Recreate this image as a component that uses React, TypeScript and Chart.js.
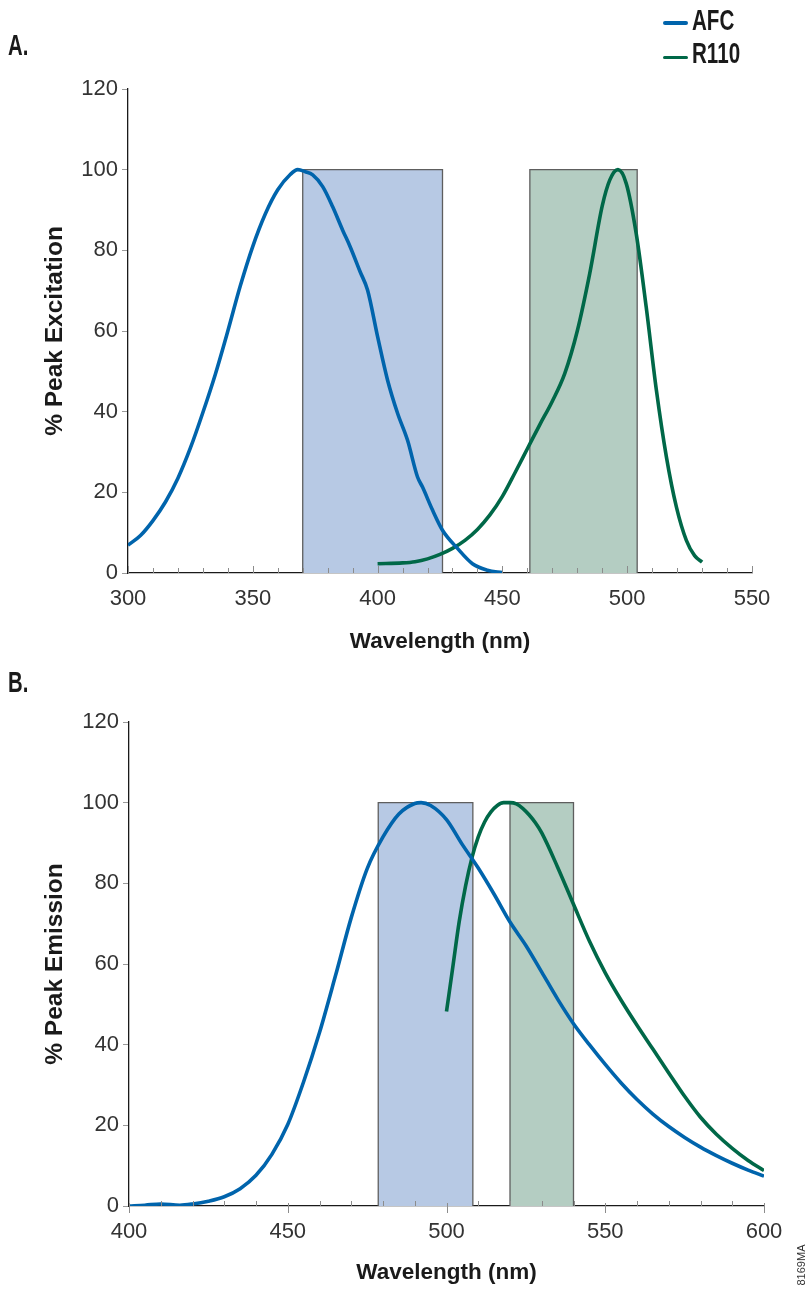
import React, { useEffect, useRef } from "react";
import { Chart, registerables } from "chart.js";

Chart.register(...registerables);

// ---------- data ----------
const seriesNames = ["AFC", "R110"];
const seriesColors = ["#0064ac", "#006848"];
const bandColors = ["#b7c9e4", "#b4cdc2"];

const exRange = [300, 550];
const emRange = [400, 600];
const yMax = 120;
const bandTop = 100;

// A. excitation
const afcExWl = [300, 305, 310, 315, 320, 325, 330, 335, 340, 345, 350, 355, 360, 365, 368, 371, 374, 378, 382, 386, 389, 393, 396, 400, 404, 408, 412, 416, 418, 422, 426, 432, 438, 444, 450];
const afcExVal = [6.9, 9.3, 13.0, 17.6, 23.5, 31.0, 39.8, 49.3, 60.0, 71.2, 81.0, 89.0, 95.0, 98.8, 100, 99.5, 98.7, 95.8, 90.8, 85, 80.9, 74.7, 70.1, 58.6, 47.8, 39.6, 32.9, 23.8, 21.3, 15.6, 10.6, 6.1, 2.3, 0.7, 0.1];
const r110ExWl = [400, 410, 415, 420, 425, 430, 435, 440, 445, 450, 455, 460, 465, 470, 475, 480, 485, 490, 493, 496.3, 499.6, 503.6, 507.6, 511.7, 515.7, 519.7, 523.7, 527, 530];
const r110ExVal = [2.3, 2.5, 2.8, 3.5, 4.6, 6.1, 8.1, 10.8, 14.4, 19.0, 24.8, 30.8, 36.8, 42.6, 49.5, 60.0, 74.3, 91.0, 97.4, 100, 96.6, 84.2, 66, 45.3, 28.8, 16.4, 8.1, 4.3, 2.7];
const exBlueBand = [370, 426];
const exGreenBand = [461, 504];

// B. emission
const afcEmWl = [400, 405, 410, 416, 420, 425, 430, 435, 440, 445, 450, 455, 460, 465, 470, 475, 480, 485, 490, 492, 495, 500, 505, 510, 515, 520, 525, 530, 535, 540, 545, 550, 555, 560, 565, 570, 575, 580, 585, 590, 595, 600];
const afcEmVal = [0, 0.2, 0.5, 0.2, 0.5, 1.2, 2.3, 4.3, 7.6, 12.8, 20.2, 30.8, 43.0, 57.0, 71.5, 83.6, 91.5, 97.2, 99.8, 100, 99.3, 95.8, 89.6, 83.8, 77.3, 70.4, 64.6, 58.0, 51.3, 45.2, 40.0, 35.1, 30.5, 26.4, 22.8, 19.7, 17.0, 14.6, 12.5, 10.6, 8.9, 7.4];
const r110EmWl = [500, 502, 504, 506, 508, 510, 512, 514, 516, 518, 520, 522, 524, 526, 528, 530, 535, 540, 545, 550, 555, 560, 565, 570, 575, 580, 585, 590, 595, 600];
const r110EmVal = [48.2, 59.3, 70.5, 79.3, 86.3, 91.5, 95.2, 97.7, 99.3, 100, 100, 99.7, 98.6, 97.0, 95.0, 92.5, 84.0, 74.8, 65.7, 57.8, 51.0, 44.8, 38.9, 33.0, 27.2, 22.0, 17.8, 14.3, 11.3, 8.8];
const emBlueBand = [478.5, 508.3];
const emGreenBand = [520, 540];

// ---------- styling ----------
const sans = "'Liberation Sans', Arial, Helvetica, sans-serif";
const ink = "#1a1a1a";

const zip = (xs: number[], ys: number[]) => xs.map((x, i) => ({ x, y: ys[i] }));

const curve = (label: string, xs: number[], ys: number[], color: string) => ({
  label,
  data: zip(xs, ys),
  borderColor: color,
  borderWidth: 3.6,
  pointRadius: 0,
  fill: false,
  cubicInterpolationMode: "monotone",
  order: 1,
});

const band = (range: number[], fillColor: string) => ({
  label: "band",
  data: [
    { x: range[0], y: 0 },
    { x: range[0], y: bandTop },
    { x: range[1], y: bandTop },
    { x: range[1], y: 0 },
  ],
  borderColor: "#5e5e5e",
  borderWidth: 1.3,
  backgroundColor: fillColor,
  pointRadius: 0,
  tension: 0,
  fill: "origin",
  order: 2,
});

const minorTickPlugin = {
  id: "minorTicks",
  afterDatasetsDraw(chart: any, _args: any, opts: any) {
    const xs = chart.scales.x;
    const base = chart.chartArea.bottom;
    const ctx = chart.ctx;
    ctx.save();
    ctx.strokeStyle = "#8c8c8c";
    ctx.lineWidth = 1;
    for (let v = xs.min; v <= xs.max + 0.001; v += 10) {
      const px = Math.round(xs.getPixelForValue(v)) + 0.5;
      const major = Math.abs(v % 50) < 0.001;
      ctx.beginPath();
      if (major && opts.majorDown) {
        ctx.moveTo(px, base - 3);
        ctx.lineTo(px, base + 7);
      } else {
        ctx.moveTo(px, base);
        ctx.lineTo(px, base - (major ? 7 : 5));
      }
      ctx.stroke();
    }
    ctx.restore();
  },
};

type Geo = {
  top: number;
  height: number;
  yWidth: number;
  padTop: number;
  padRight: number;
  xHeight: number;
  xTitlePad: number;
};

function SpectrumChart(props: { geo: Geo; xRange: number[]; yTitle: string; datasets: any[]; majorDown: boolean }) {
  const { geo, xRange, yTitle, datasets, majorDown } = props;
  const ref = useRef<HTMLCanvasElement>(null);
  useEffect(() => {
    if (!ref.current) return;
    const chart = new Chart(ref.current, {
      type: "line",
      data: { datasets },
      options: {
        animation: false,
        responsive: false,
        layout: { padding: { left: 0, top: geo.padTop, right: geo.padRight, bottom: 0 } },
        plugins: {
          legend: { display: false },
          tooltip: { enabled: false },
          minorTicks: { majorDown },
        } as any,
        scales: {
          x: {
            type: "linear",
            min: xRange[0],
            max: xRange[1],
            z: 1,
            afterFit: (s: any) => {
              s.height = geo.xHeight;
            },
            grid: { display: true, drawOnChartArea: false, drawTicks: false },
            border: { display: true, color: ink, width: 1.3 },
            ticks: {
              stepSize: 50,
              padding: 13,
              color: "#333",
              autoSkip: false,
              maxRotation: 0,
              font: { family: sans, size: 22 },
            },
            title: {
              display: true,
              text: "Wavelength (nm)",
              color: ink,
              font: { family: sans, size: 22.5, weight: "bold" },
              padding: { top: 0, bottom: geo.xTitlePad },
            },
          },
          y: {
            type: "linear",
            min: 0,
            max: yMax,
            afterFit: (s: any) => {
              s.width = geo.yWidth;
            },
            grid: { display: true, drawOnChartArea: false, drawTicks: true, tickLength: 6, tickColor: "#9a9a9a" },
            border: { display: true, color: ink, width: 1.3 },
            ticks: {
              stepSize: 20,
              padding: 4,
              color: "#333",
              font: { family: sans, size: 22 },
            },
            title: {
              display: true,
              text: yTitle,
              color: ink,
              font: { family: sans, size: 24.5, weight: "bold" },
              padding: { top: 41, bottom: 0 },
            },
          },
        },
      } as any,
      plugins: [minorTickPlugin as any],
    });
    return () => chart.destroy();
  }, []);
  return (
    <div style={{ position: "absolute", left: 0, top: geo.top, width: 809, height: geo.height }}>
      <canvas ref={ref} width={809} height={geo.height} style={{ width: 809, height: geo.height, display: "block" }} />
    </div>
  );
}

function Txt(props: { text: string; left: number; top: number; size: number; sx?: number }) {
  return (
    <div
      style={{
        position: "absolute",
        left: props.left,
        top: props.top,
        fontFamily: sans,
        fontWeight: "bold",
        fontSize: props.size,
        lineHeight: 1,
        color: ink,
        whiteSpace: "nowrap",
        transform: `scaleX(${props.sx ?? 1})`,
        transformOrigin: "left top",
      }}
    >
      {props.text}
    </div>
  );
}

export default function App() {
  const geoA: Geo = { top: 0, height: 670, yWidth: 128, padTop: 89, padRight: 57, xHeight: 97, xTitlePad: 14.5 };
  const geoB: Geo = { top: 660, height: 629, yWidth: 129, padTop: 62, padRight: 45, xHeight: 83, xTitlePad: 3 };

  const dsA = [
    curve(seriesNames[0], afcExWl, afcExVal, seriesColors[0]),
    curve(seriesNames[1], r110ExWl, r110ExVal, seriesColors[1]),
    band(exBlueBand, bandColors[0]),
    band(exGreenBand, bandColors[1]),
  ];
  const dsB = [
    curve(seriesNames[0], afcEmWl, afcEmVal, seriesColors[0]),
    curve(seriesNames[1], r110EmWl, r110EmVal, seriesColors[1]),
    band(emBlueBand, bandColors[0]),
    band(emGreenBand, bandColors[1]),
  ];

  return (
    <div style={{ position: "absolute", left: 0, top: 0, width: 809, height: 1289, background: "#fff", overflow: "hidden" }}>
      <SpectrumChart geo={geoA} xRange={exRange} yTitle="% Peak Excitation" datasets={dsA} majorDown={false} />
      <SpectrumChart geo={geoB} xRange={emRange} yTitle="% Peak Emission" datasets={dsB} majorDown={true} />

      <Txt text="A." left={8} top={30.5} size={29} sx={0.7} />
      <Txt text="B." left={8} top={668} size={29} sx={0.7} />

      {seriesNames.map((name, i) => (
        <React.Fragment key={name}>
          <div
            style={{
              position: "absolute",
              left: 663,
              top: i === 0 ? 21 : 55.5,
              width: 25,
              height: 3.5,
              borderRadius: 2,
              background: seriesColors[i],
            }}
          />
          <Txt text={name} left={692} top={i === 0 ? 6.2 : 39.2} size={29} sx={0.71} />
        </React.Fragment>
      ))}

      <div
        style={{
          position: "absolute",
          left: 778,
          top: 1259,
          width: 46,
          height: 12,
          lineHeight: "12px",
          fontFamily: sans,
          fontSize: 11,
          color: "#333",
          textAlign: "center",
          transform: "rotate(-90deg)",
          transformOrigin: "center center",
        }}
      >
        8169MA
      </div>
    </div>
  );
}
